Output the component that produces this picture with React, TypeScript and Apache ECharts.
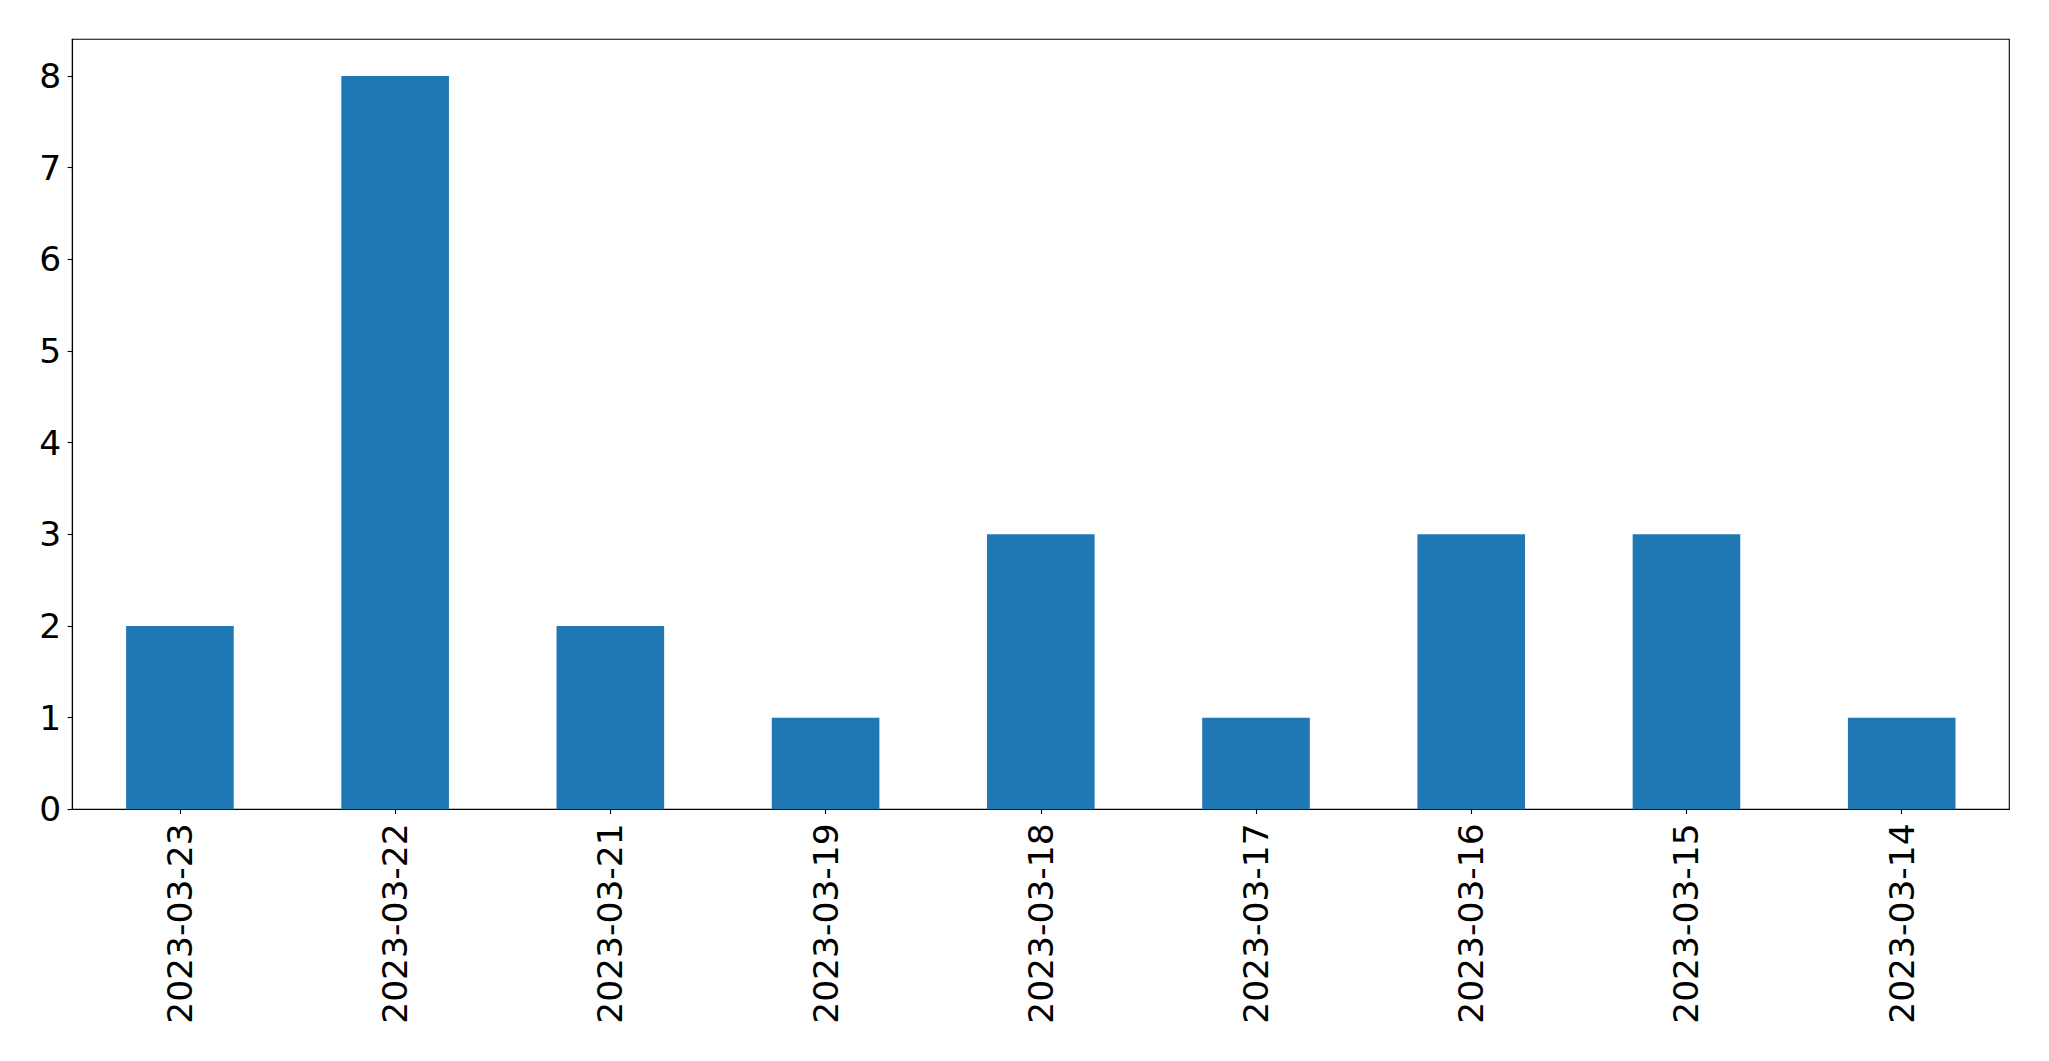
import React, { useEffect, useRef } from "react";
import * as echarts from "echarts";

const categories = [
  "2023-03-23",
  "2023-03-22",
  "2023-03-21",
  "2023-03-19",
  "2023-03-18",
  "2023-03-17",
  "2023-03-16",
  "2023-03-15",
  "2023-03-14",
];
const values = [2, 8, 2, 1, 3, 1, 3, 3, 1];
const yTicks = [0, 1, 2, 3, 4, 5, 6, 7, 8];

export default function App() {
  const ref = useRef<HTMLDivElement>(null);
  useEffect(() => {
    if (!ref.current) return;
    const chart = echarts.init(ref.current, undefined, { renderer: "svg" });
    const font = "DejaVu Sans";
    chart.setOption({
      animation: false,
      backgroundColor: "#ffffff",
      grid: {
        left: 72.3,
        right: 39.7,
        top: 39.3,
        bottom: 251.7,
        show: true,
        borderColor: "#000000",
        borderWidth: 1.1,
        backgroundColor: "transparent",
      },
      xAxis: {
        type: "category",
        data: categories,
        boundaryGap: true,
        axisLine: { show: true, lineStyle: { color: "#000", width: 1.1 } },
        axisTick: {
          show: true,
          alignWithLabel: true,
          length: 4.7,
          lineStyle: { color: "#000", width: 1.1 },
        },
        axisLabel: {
          rotate: 90,
          margin: 14,
          color: "#000",
          fontFamily: font,
          fontSize: 34.5,
          interval: 0,
        },
        splitLine: { show: false },
      },
      yAxis: {
        type: "value",
        min: 0,
        max: 8.4,
        interval: 1,
        axisLine: { show: true, lineStyle: { color: "#000", width: 1.1 } },
        axisTick: {
          show: true,
          length: 4.7,
          customValues: yTicks,
          lineStyle: { color: "#000", width: 1.1 },
        },
        axisLabel: {
          margin: 11,
          color: "#000",
          fontFamily: font,
          fontSize: 34.5,
          customValues: yTicks,
        },
        splitLine: { show: false },
      },
      series: [
        {
          type: "bar",
          data: values,
          barCategoryGap: "50%",
          itemStyle: { color: "#1f77b4" },
        },
      ],
    });
    return () => chart.dispose();
  }, []);
  return (
    <div
      ref={ref}
      style={{ position: "fixed", left: 0, top: 0, width: 2049, height: 1061, background: "#fff" }}
    />
  );
}
